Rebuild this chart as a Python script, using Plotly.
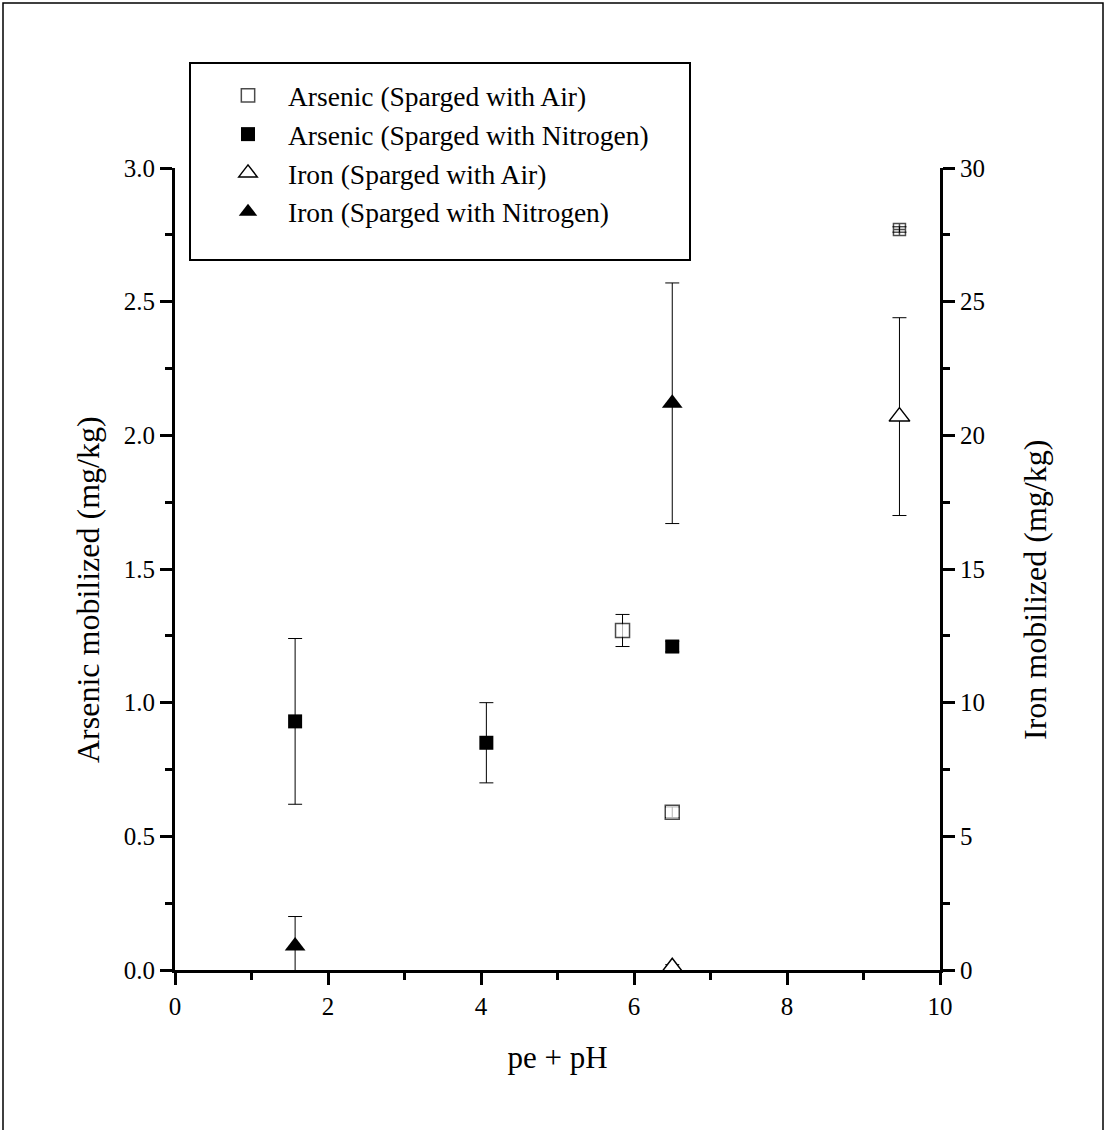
import plotly.graph_objects as go

# Arsenic (left axis, mg/kg)
as_air_x = [5.85, 6.5, 9.47]
as_air_y = [1.27, 0.59, 2.77]
as_air_err = [0.06, 0.02, 0.01]

as_n2_x = [1.57, 4.07, 6.5]
as_n2_y = [0.93, 0.85, 1.21]
as_n2_err = [0.31, 0.15, 0.02]

# Iron (right axis, mg/kg)
fe_air_x = [6.5, 9.47]
fe_air_y = [0.1, 20.7]
fe_air_err = [0.1, 3.7]

fe_n2_x = [1.57, 6.5]
fe_n2_y = [0.9, 21.2]
fe_n2_err = [1.1, 4.5]

FONT = "Liberation Serif, Times New Roman, serif"

fig = go.Figure()

def eb(arr):
    return dict(type="data", array=arr, visible=True, color="black", thickness=1, width=7)

fig.add_trace(go.Scatter(x=as_air_x, y=as_air_y, mode="markers", name="Arsenic (Sparged with Air)",
                         error_y=eb(as_air_err),
                         marker=dict(symbol=["square", "square", "square-cross-open"], size=[14, 14, 12],
                                     color=["white", "white", "black"],
                                     line=dict(width=1.5, color="black"))))
fig.add_trace(go.Scatter(x=as_n2_x, y=as_n2_y, mode="markers", name="Arsenic (Sparged with Nitrogen)",
                         error_y=eb(as_n2_err),
                         marker=dict(symbol="square", size=14, color="black")))
fig.add_trace(go.Scatter(x=fe_air_x, y=fe_air_y, mode="markers", name="Iron (Sparged with Air)", yaxis="y2",
                         error_y=eb(fe_air_err),
                         marker=dict(symbol="triangle-up", size=18, color="white", line=dict(width=1.5, color="black"))))
fig.add_trace(go.Scatter(x=fe_n2_x, y=fe_n2_y, mode="markers", name="Iron (Sparged with Nitrogen)", yaxis="y2",
                         error_y=eb(fe_n2_err),
                         marker=dict(symbol="triangle-up", size=18, color="black")))

axis_common = dict(showgrid=False, zeroline=False, showline=True, linecolor="black", linewidth=3,
                   ticks="outside", tickwidth=3, ticklen=12, tickcolor="black",
                   tickfont=dict(family=FONT, size=25, color="black"),
                   minor=dict(ticks="outside", ticklen=7, tickwidth=3, tickcolor="black"))

TITLE_SIZE = 32

fig.update_layout(
    width=1106, height=1130,
    margin=dict(l=175, r=166, t=168, b=160),
    paper_bgcolor="white", plot_bgcolor="white",
    font=dict(family=FONT, color="black"),
    xaxis=dict(range=[0, 10], dtick=2, minor_dtick=1,
               title=dict(text="pe + pH", font=dict(family=FONT, size=31), standoff=28),
               **axis_common),
    yaxis=dict(range=[0, 3], dtick=0.5, tickformat=".1f", minor_dtick=0.25, **axis_common),
    yaxis2=dict(range=[0, 30], dtick=5, minor_dtick=2.5, overlaying="y", side="right", **axis_common),
    legend=dict(x=(208 - 175) / 765, y=(970 - 71) / 802, xanchor="left", yanchor="top",
                bgcolor="rgba(0,0,0,0)", borderwidth=0, itemwidth=70,
                font=dict(family=FONT, size=27.5, color="black"),
                itemsizing="trace", tracegroupgap=0),
    showlegend=True,
    annotations=[
        dict(text="Arsenic mobilized (mg/kg)", textangle=-90, xref="paper", yref="paper",
             x=(88 - 175) / 765, y=(970 - 590) / 802, xanchor="center", yanchor="middle",
             showarrow=False, font=dict(family=FONT, size=TITLE_SIZE, color="black")),
        dict(text="Iron mobilized (mg/kg)", textangle=-90, xref="paper", yref="paper",
             x=(1035 - 175) / 765, y=(970 - 590) / 802, xanchor="center", yanchor="middle",
             showarrow=False, font=dict(family=FONT, size=TITLE_SIZE, color="black")),
    ],
    shapes=[
        dict(type="rect", xref="paper", yref="paper",
             x0=(3 - 175) / 765, x1=(1103 - 175) / 765,
             y0=(970 - 1140) / 802, y1=(970 - 3) / 802,
             line=dict(color="black", width=1.5), fillcolor="rgba(0,0,0,0)", layer="below"),
        dict(type="rect", xref="paper", yref="paper",
             x0=(190 - 175) / 765, x1=(690 - 175) / 765,
             y0=(970 - 260) / 802, y1=(970 - 63) / 802,
             line=dict(color="black", width=2), fillcolor="rgba(0,0,0,0)", layer="above"),
    ],
)

fig.write_html("out.html")
